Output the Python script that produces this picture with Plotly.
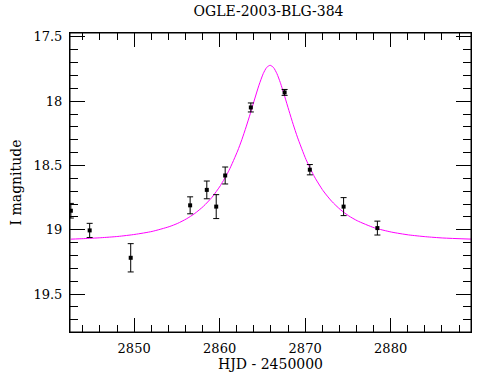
import plotly.graph_objects as go

# Observed photometry (HJD - 2450000, I mag, error)
obs_hjd = [2842.6, 2844.8, 2849.6, 2856.55, 2858.5, 2859.6, 2860.65, 2863.65, 2867.6, 2870.55, 2874.5, 2878.45]
obs_mag = [18.852, 19.005, 19.218, 18.81, 18.69, 18.82, 18.578, 18.049, 17.932, 18.533, 18.82, 18.987]
obs_err = [0.057, 0.055, 0.11, 0.066, 0.069, 0.093, 0.066, 0.035, 0.023, 0.04, 0.07, 0.054]

# Model light curve
model_hjd = [2842.6, 2844.1, 2846.1, 2848.1, 2850.1, 2852.1, 2854.1, 2855.1, 2856.1, 2857.1,
             2858.1, 2859.1, 2860.1, 2861.1, 2862.1, 2862.6, 2863.1, 2863.6, 2864.1, 2864.6,
             2865.1, 2865.5, 2865.9, 2866.3, 2866.7, 2867.1, 2867.6, 2868.1, 2868.6, 2869.1,
             2870.1, 2871.1, 2872.1, 2873.1, 2874.1, 2875.1, 2876.1, 2878.1, 2880.1, 2882.1,
             2884.1, 2886.1, 2889.5]
model_mag = [19.073, 19.069, 19.062, 19.052, 19.036, 19.013, 18.976, 18.950, 18.916, 18.873,
             18.818, 18.748, 18.656, 18.538, 18.388, 18.299, 18.200, 18.094, 17.983, 17.876,
             17.786, 17.738, 17.721, 17.738, 17.786, 17.856, 17.961, 18.072, 18.180, 18.280,
             18.453, 18.589, 18.696, 18.778, 18.842, 18.892, 18.930, 18.985, 19.018, 19.040,
             19.054, 19.064, 19.073]

x_tickvals = [2850, 2860, 2870, 2880]
y_tickvals = [17.5, 18, 18.5, 19, 19.5]

FONT = "DejaVu Serif"

fig = go.Figure()
fig.add_trace(go.Scatter(
    x=model_hjd, y=model_mag, mode="lines",
    line=dict(color="#ff00ff", width=1, shape="spline", smoothing=0.6),
    hoverinfo="skip", showlegend=False))
fig.add_trace(go.Scatter(
    x=obs_hjd, y=obs_mag, mode="markers",
    marker=dict(color="black", size=4, symbol="square"),
    error_y=dict(type="data", array=obs_err, visible=True, color="black", thickness=1, width=3),
    showlegend=False))

fig.update_xaxes(
    range=[2842.5, 2889.4], tickvals=x_tickvals, ticklabelstandoff=4, automargin=False,
    showgrid=False, zeroline=False, showline=True, linecolor="#000000", linewidth=1,
    mirror="allticks", ticks="inside", ticklen=14, tickwidth=1, tickcolor="#000000",
    tickfont=dict(family=FONT, size=13, color="black"),
    minor=dict(ticks="inside", ticklen=7, dtick=2, tick0=2850, tickcolor="#000000", tickwidth=1, showgrid=False),
    title=dict(text="HJD - 2450000", font=dict(family=FONT, size=14, color="black"), standoff=0))
fig.update_yaxes(
    range=[19.795, 17.47], tickvals=y_tickvals, ticklabelstandoff=4, automargin=False,
    showgrid=False, zeroline=False, showline=True, linecolor="#000000", linewidth=1,
    mirror="allticks", ticks="inside", ticklen=15, tickwidth=1, tickcolor="#000000",
    tickfont=dict(family=FONT, size=13, color="black"),
    minor=dict(ticks="inside", ticklen=8, dtick=0.1, tick0=17.5, tickcolor="#000000", tickwidth=1, showgrid=False),
    title=dict(text="I magnitude", font=dict(family=FONT, size=14, color="black"), standoff=8))

fig.add_shape(type="rect", xref="paper", yref="paper", x0=0, x1=1, y0=0, y1=1,
              line=dict(color="black", width=1), fillcolor="rgba(0,0,0,0)", layer="above")

fig.update_layout(
    width=490, height=380,
    margin=dict(l=70, r=19, t=33, b=48, autoexpand=False),
    paper_bgcolor="white", plot_bgcolor="white",
    title=dict(text="OGLE-2003-BLG-384", x=0.548, xanchor="center", y=0.972, yanchor="middle",
               font=dict(family=FONT, size=14, color="black"), automargin=False),
)

fig.write_html("out.html", config={"displayModeBar": False},
               post_script="document.body.style.margin='0';document.body.style.overflow='hidden';")
